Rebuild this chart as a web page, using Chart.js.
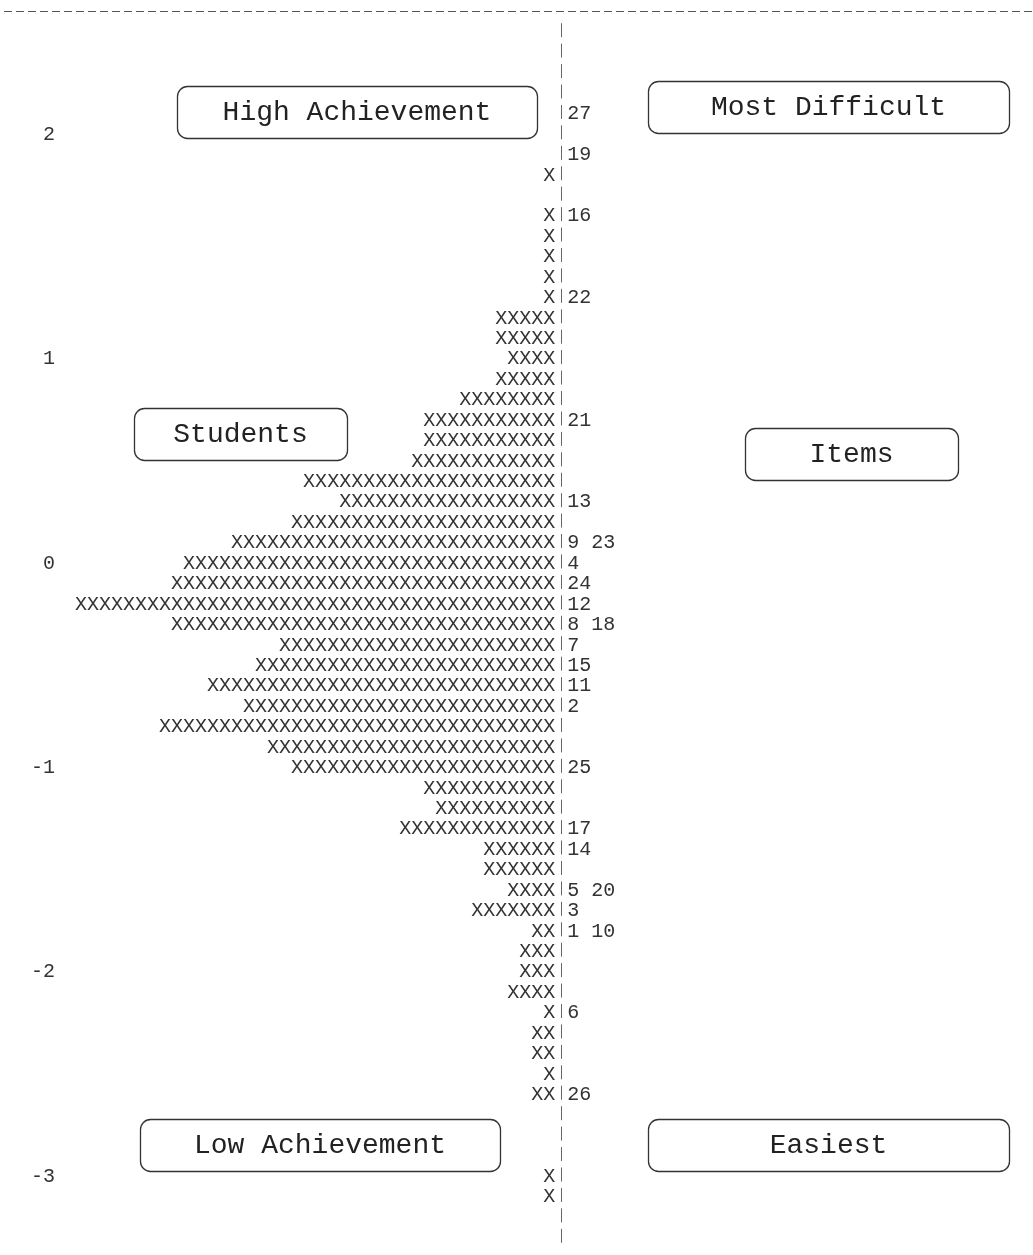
<!DOCTYPE html>
<html>
<head>
<meta charset="utf-8">
<script src="https://cdn.jsdelivr.net/npm/chart.js@4/dist/chart.umd.min.js"></script>
<style>
  html, body { margin: 0; padding: 0; background: #ffffff; }
  #wrap { position: relative; width: 1033px; height: 1255px; }
</style>
</head>
<body>
<div id="wrap"><canvas id="c" width="1033" height="1255"></canvas></div>
<script>
// ---- DATA (one entry per map row, top to bottom) ----
const rowLabels = [
  '', '', '', '', '', '2', '', '', '', '',
  '', '', '', '', '', '', '1', '', '', '',
  '', '', '', '', '', '', '0', '', '', '',
  '', '', '', '', '', '', '-1', '', '', '',
  '', '', '', '', '', '', '-2', '', '', '',
  '', '', '', '', '', '', '-3', '', '', ''
];
const studentCounts = [
  0, 0, 0, 0, 0, 0, 0, 1, 0, 1,
  1, 1, 1, 1, 5, 5, 4, 5, 8, 11,
  11, 12, 21, 18, 22, 27, 31, 32, 40, 32,
  23, 25, 29, 26, 33, 24, 22, 11, 10, 13,
  6, 6, 4, 7, 2, 3, 3, 4, 1, 2,
  2, 1, 2, 0, 0, 0, 1, 1, 0, 0
];
const itemLabels = [
  '', '', '', '', '27', '', '19', '', '', '16',
  '', '', '', '22', '', '', '', '', '', '21',
  '', '', '', '13', '', '9 23', '4', '24', '12', '8 18',
  '7', '15', '11', '2', '', '', '25', '', '', '17',
  '14', '', '5 20', '3', '1 10', '', '', '', '6', '',
  '', '', '26', '', '', '', '', '', '', ''
];
const boxTexts = ['High Achievement', 'Most Difficult', 'Students', 'Items', 'Low Achievement', 'Easiest'];

// ---- presentation ----
const MONO = '"Liberation Mono", "Courier New", "DejaVu Sans Mono", monospace';
const boxGeom = [
  { x: 177, y: 86, w: 360, h: 52 },
  { x: 648, y: 81, w: 361, h: 52 },
  { x: 134, y: 408, w: 213, h: 52 },
  { x: 745, y: 428, w: 213, h: 52 },
  { x: 140, y: 1119, w: 360, h: 52 },
  { x: 648, y: 1119, w: 361, h: 52 }
];

const wrightPlugin = {
  id: 'wright',
  afterDatasetsDraw(chart) {
    const { ctx, scales: { x, y }, chartArea } = chart;
    const pitch = y.getPixelForValue(1) - y.getPixelForValue(0);
    const W = chart.width;
    ctx.save();

    // top separator (row of dashes)
    const yTop = Math.round(y.getPixelForValue(0) - pitch) + 0.5;
    ctx.strokeStyle = '#555';
    ctx.lineWidth = 1;
    ctx.setLineDash([8, 4]);
    ctx.lineDashOffset = -4;
    ctx.beginPath();
    ctx.moveTo(0, yTop);
    ctx.lineTo(W, yTop);
    ctx.stroke();
    ctx.setLineDash([]);

    // central column of "|"
    const xBar = Math.round(x.getPixelForValue(-0.5)) + 0.5;
    ctx.strokeStyle = '#666';
    for (let i = 0; i < rowLabels.length; i++) {
      const yc = y.getPixelForValue(i);
      ctx.beginPath();
      ctx.moveTo(xBar, yc - 8);
      ctx.lineTo(xBar, yc + 6);
      ctx.stroke();
    }

    // student X marks, one per student, filling each bar
    const meta = chart.getDatasetMeta(0);
    ctx.font = '20px ' + MONO;
    ctx.fillStyle = '#333';
    ctx.textAlign = 'center';
    ctx.textBaseline = 'middle';
    meta.data.forEach((bar, i) => {
      const n = studentCounts[i];
      if (!n) return;
      const w = (bar.base - bar.x) / n;
      for (let k = 0; k < n; k++) {
        ctx.fillText('X', bar.x + w * (k + 0.5), bar.y + 1);
      }
    });

    // item labels to the right of the column
    ctx.textAlign = 'left';
    const xItem = x.getPixelForValue(-1);
    itemLabels.forEach((t, i) => {
      if (t) ctx.fillText(t, xItem, y.getPixelForValue(i) + 1);
    });

    // logit scale labels on the left
    ctx.textAlign = 'right';
    rowLabels.forEach((t, i) => {
      if (t) ctx.fillText(t, 55, y.getPixelForValue(i) + 1);
    });

    // rounded label boxes
    ctx.font = '28px ' + MONO;
    ctx.textAlign = 'center';
    ctx.strokeStyle = '#333';
    ctx.lineWidth = 1.3;
    boxTexts.forEach((t, i) => {
      const b = boxGeom[i];
      ctx.beginPath();
      ctx.roundRect(b.x + 0.5, b.y + 0.5, b.w, b.h, 10);
      ctx.fillStyle = '#fff';
      ctx.fill();
      ctx.stroke();
      ctx.fillStyle = '#222';
      ctx.fillText(t, b.x + b.w / 2, b.y + b.h / 2 + 1);
    });
    ctx.restore();
  }
};

new Chart(document.getElementById('c'), {
  type: 'bar',
  data: {
    labels: rowLabels,
    datasets: [{
      label: 'Students',
      data: studentCounts,
      backgroundColor: 'rgba(0,0,0,0)',
      borderWidth: 0
    }]
  },
  options: {
    indexAxis: 'y',
    responsive: false,
    animation: false,
    events: [],
    layout: { padding: { top: 21, bottom: 8, left: 0, right: 0 } },
    plugins: { legend: { display: false }, tooltip: { enabled: false } },
    scales: {
      x: { type: 'linear', display: false, min: -39.8, max: 46.25, reverse: true },
      y: { type: 'category', display: false, offset: true }
    }
  },
  plugins: [wrightPlugin]
});
</script>
</body>
</html>
